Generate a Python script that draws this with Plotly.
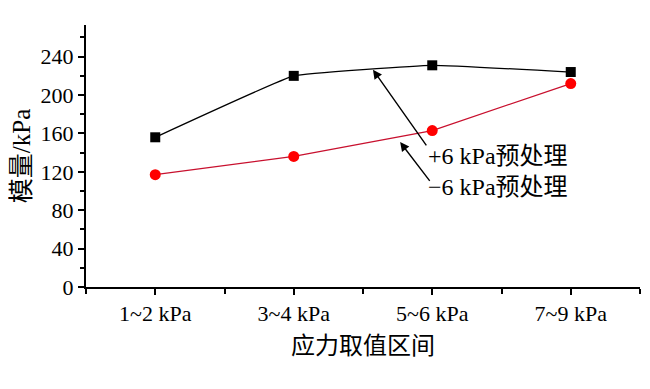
import plotly.graph_objects as go

categories = ["1~2 kPa", "3~4 kPa", "5~6 kPa", "7~9 kPa"]
plus6 = [156, 220, 231, 224]
minus6 = [117, 136, 163, 212]
y_ticks = [0, 40, 80, 120, 160, 200, 240]

xs = list(range(len(categories)))
FONT = "Liberation Serif, Times New Roman, Noto Sans CJK SC"

fig = go.Figure()
fig.add_trace(go.Scatter(x=xs, y=plus6, mode="lines+markers",
                         line=dict(color="black", width=1.3, shape="spline", smoothing=0.25),
                         marker=dict(symbol="square", size=10, color="black"),
                         name="+6 kPa预处理"))
fig.add_trace(go.Scatter(x=xs, y=minus6, mode="lines+markers",
                         line=dict(color="#c8102e", width=1.3),
                         marker=dict(symbol="circle", size=11, color="#ff0000"),
                         name="−6 kPa预处理"))

# arrows
fig.add_annotation(x=1.572, y=226.5, ax=1.965, ay=146, xref="x", yref="y", axref="x", ayref="y",
                   text="", showarrow=True, arrowhead=2, arrowsize=1.3, arrowwidth=1.4, arrowcolor="black")
fig.add_annotation(x=1.768, y=151, ax=1.99, ay=109, xref="x", yref="y", axref="x", ayref="y",
                   text="", showarrow=True, arrowhead=2, arrowsize=1.3, arrowwidth=1.4, arrowcolor="black")
fig.add_annotation(x=1.955, y=136, xref="x", yref="y", text="+6 kPa预处理", showarrow=False,
                   xanchor="left", yanchor="middle", font=dict(family=FONT, size=24, color="black"))
fig.add_annotation(x=1.955, y=104, xref="x", yref="y", text="−6 kPa预处理", showarrow=False,
                   xanchor="left", yanchor="middle", font=dict(family=FONT, size=24, color="black"))

fig.update_layout(
    width=642, height=381,
    margin=dict(l=78, r=10, t=17, b=102),
    paper_bgcolor="white", plot_bgcolor="white",
    showlegend=False,
    font=dict(family=FONT, size=22, color="black"),
)
fig.update_xaxes(range=[-0.5, 3.5], tickvals=xs, ticktext=categories, automargin=False,
                 showline=True, linecolor="black", linewidth=2, showgrid=False, zeroline=False,
                 ticks="outside", ticklen=6, tickwidth=2, tickcolor="black",
                 minor=dict(tickvals=[-0.5, 0.5, 1.5, 2.5, 3.5], ticks="outside", ticklen=5, tickwidth=2, tickcolor="black"),
                 tickfont=dict(family=FONT, size=22),
                 title=dict(text="应力取值区间", font=dict(family=FONT, size=24), standoff=12))
fig.update_yaxes(range=[0, 273], tickvals=y_ticks, automargin=False,
                 showline=True, linecolor="black", linewidth=2, showgrid=False, zeroline=False,
                 ticks="outside", ticklen=6, tickwidth=2, tickcolor="black",
                 minor=dict(dtick=20, tick0=0, ticks="outside", ticklen=4, tickwidth=2, tickcolor="black"),
                 tickfont=dict(family=FONT, size=22),
                 title=dict(text="模量/kPa", font=dict(family=FONT, size=25), standoff=4))

fig.write_html("out.html")
